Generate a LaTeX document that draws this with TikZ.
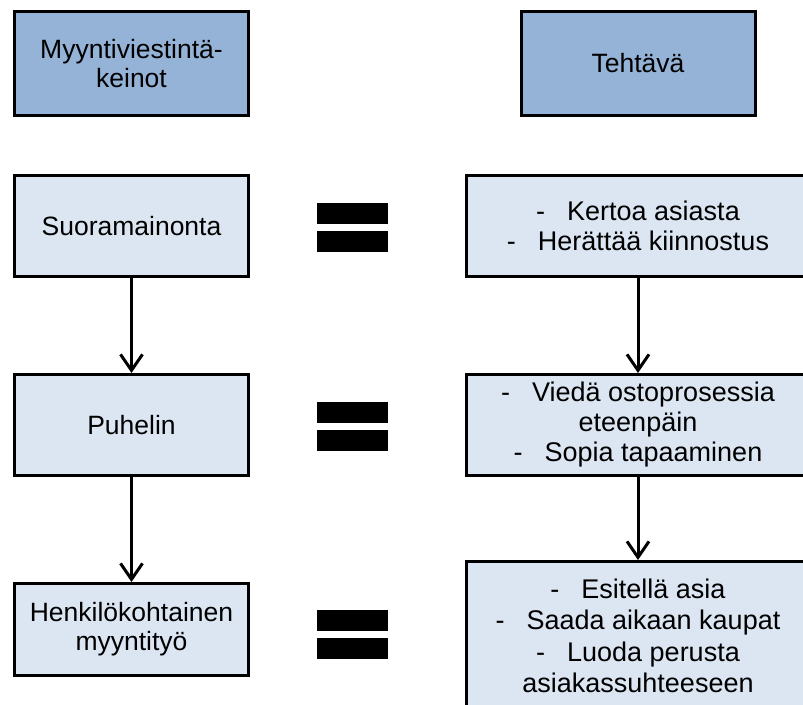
\documentclass[tikz,border=0pt]{standalone}
\usepackage{fontspec}
\setmainfont{Liberation Sans}
\usepackage{tikz}
\usetikzlibrary{arrows.meta, positioning}
\definecolor{headblue}{HTML}{95B3D7}
\definecolor{boxblue}{HTML}{DCE6F2}
\tikzset{
    headbox/.style={draw, line width=3pt, fill=headblue, minimum width=234pt, minimum height=104pt, align=center, font=\fontsize{26.5}{29}\selectfont},
    leftbox/.style={draw, line width=3pt, fill=boxblue, minimum width=234pt, align=center, font=\fontsize{26.5}{29}\selectfont},
    rightbox/.style={draw, line width=3pt, fill=boxblue, minimum width=344pt, minimum height=101pt, align=center, font=\fontsize{27}{30}\selectfont},
    eqbar/.style={fill=black, inner sep=0pt, minimum width=71pt, minimum height=21pt},
    flow/.style={line width=3pt, -{Straight Barb[length=16pt,width=22pt]}}
}
\newcommand{\viiva}{-\hspace{22pt}}

\begin{document}
\begin{tikzpicture}[x=1pt, y=-1pt]
    \useasboundingbox (0,0) rectangle (803,704);
    \clip (0,0) rectangle (803,704);
    \node[headbox] (keinot) at (131.5,63.5) {Myyntiviestintä-\\keinot};
    \node[headbox] (tehtava) at (638,63.5) {Tehtävä};
    \node[leftbox, minimum height=101pt] (suora) at (131.5,226) {Suoramainonta};
    \node[leftbox, minimum height=101pt] (puhelin) at (131.5,425) {Puhelin};
    \node[leftbox, minimum height=92pt] (henkilo) at (131.5,629.5) {Henkilökohtainen\\myyntityö};
    \node[rightbox] (kertoa) at (638,226) {\viiva Kertoa asiasta\\\viiva Herättää kiinnostus};
    \node[rightbox] (vieda) at (638,425) {\viiva Viedä ostoprosessia\\eteenpäin\\\viiva Sopia tapaaminen};
    \node[rightbox, anchor=north, inner ysep=17pt] (esitella) at (638,560)
        {\parbox[c][150pt][t]{330pt}{\centering\fontsize{27}{31.5}\selectfont
        \viiva Esitellä asia\\\viiva Saada aikaan kaupat\\\viiva Luoda perusta\\asiakassuhteeseen}};
    \node[eqbar] (eq1a) at (352.5,213.5) {};
    \node[eqbar] (eq1b) at (352.5,241.5) {};
    \node[eqbar] (eq2a) at (352.5,412.5) {};
    \node[eqbar] (eq2b) at (352.5,440.5) {};
    \node[eqbar] (eq3a) at (352.5,620) {};
    \node[eqbar] (eq3b) at (352.5,648) {};
    \draw[flow] (suora) -- (puhelin);
    \draw[flow] (puhelin) -- (henkilo);
    \draw[flow] (kertoa) -- (vieda);
    \draw[flow] (vieda) -- (esitella);
\end{tikzpicture}
\end{document}
